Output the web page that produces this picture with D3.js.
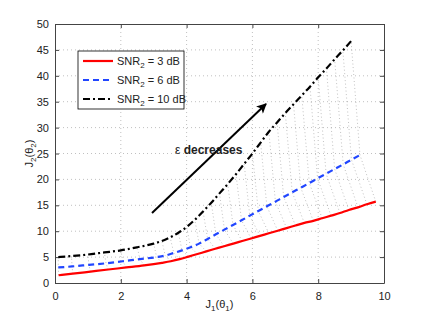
<!DOCTYPE html>
<meta charset="utf-8">
<html>
<head>
    <script src="https://d3js.org/d3.v7.min.js"></script>
    <style>
        body { margin: 0; background: #fff; }
        text { font-family: "Liberation Sans", Arial, sans-serif; fill: #222; }
    </style>
</head>
<body>
<div class="chart"></div>
<script>
// data (same parameter index across the three curves)
var blackX = [0.1, 0.5, 1.0, 1.5, 2.0, 2.5, 3.0, 3.25, 3.5, 3.75, 4.0, 4.25, 4.5, 4.75, 5.0, 5.25, 5.5, 5.75, 6.0, 6.25, 6.5, 6.75, 7.0, 7.25, 7.5, 7.75, 8.0, 8.25, 8.5, 8.75, 9.0];
var blackY = [5.0, 5.2, 5.5, 5.9, 6.3, 6.9, 7.6, 8.1, 8.8, 9.7, 10.8, 12.2, 13.8, 15.5, 17.3, 19.1, 21.0, 23.0, 25.0, 27.1, 29.2, 31.0, 32.8, 34.5, 36.2, 37.9, 39.7, 41.4, 43.2, 44.9, 46.7];
var blueX = [0.1, 0.52, 1.03, 1.55, 2.06, 2.58, 3.09, 3.35, 3.61, 3.86, 4.12, 4.38, 4.64, 4.89, 5.15, 5.41, 5.67, 5.92, 6.18, 6.44, 6.7, 6.95, 7.21, 7.47, 7.73, 7.98, 8.24, 8.5, 8.76, 9.01, 9.27];
var blueY = [3.0, 3.2, 3.5, 3.8, 4.2, 4.6, 5.0, 5.3, 5.8, 6.3, 6.9, 7.6, 8.5, 9.4, 10.3, 11.2, 12.1, 13.0, 13.9, 14.8, 15.7, 16.6, 17.5, 18.4, 19.3, 20.2, 21.1, 22.0, 22.9, 23.8, 24.7];
var redX = [0.11, 0.54, 1.08, 1.62, 2.17, 2.71, 3.25, 3.52, 3.79, 4.06, 4.33, 4.6, 4.87, 5.14, 5.42, 5.69, 5.96, 6.23, 6.5, 6.77, 7.04, 7.31, 7.58, 7.85, 8.12, 8.39, 8.66, 8.93, 9.21, 9.48, 9.75];
var redY = [1.5, 1.8, 2.2, 2.6, 3.0, 3.4, 3.9, 4.2, 4.6, 5.1, 5.6, 6.1, 6.6, 7.1, 7.6, 8.1, 8.6, 9.1, 9.6, 10.1, 10.6, 11.1, 11.6, 12.0, 12.5, 13.0, 13.5, 14.1, 14.6, 15.2, 15.7];
var xTicks = [0, 2, 4, 6, 8, 10];
var yTicks = [0, 5, 10, 15, 20, 25, 30, 35, 40, 45, 50];
var snrLabels = ["3", "6", "10"];

var W = 424, H = 319;
var margin = {top: 24, right: 40, bottom: 36, left: 55};
var width = W - margin.left - margin.right,
    height = H - margin.top - margin.bottom;

var svg = d3.select(".chart").append("svg")
    .attr("width", W)
    .attr("height", H);

var defs = svg.append("defs");
defs.append("marker")
    .attr("id", "head")
    .attr("viewBox", "0 0 10 10")
    .attr("refX", 9).attr("refY", 5)
    .attr("markerWidth", 6).attr("markerHeight", 5)
    .attr("markerUnits", "strokeWidth")
    .attr("orient", "auto")
    .append("path")
    .attr("d", "M0,0 L10,5 L0,10 L2.5,5 Z")
    .style("fill", "#000");

var g = svg.append("g")
    .attr("transform", "translate(" + margin.left + "," + margin.top + ")");

var x = d3.scaleLinear().domain([0, 10]).range([0, width]);
var y = d3.scaleLinear().domain([0, 50]).range([height, 0]);

// grid
g.selectAll(".vgrid").data(xTicks.slice(1, -1)).enter()
    .append("line")
    .attr("x1", function(d){ return x(d); }).attr("x2", function(d){ return x(d); })
    .attr("y1", 0).attr("y2", height)
    .style("stroke", "#b0b0b0").style("stroke-width", 0.8).style("stroke-dasharray", "1,3");
g.selectAll(".hgrid").data(yTicks.slice(1, -1)).enter()
    .append("line")
    .attr("x1", 0).attr("x2", width)
    .attr("y1", function(d){ return y(d); }).attr("y2", function(d){ return y(d); })
    .style("stroke", "#b0b0b0").style("stroke-width", 0.8).style("stroke-dasharray", "1,3");

// axes (ticks inside, mirrored)
g.append("g").attr("transform", "translate(0," + height + ")")
    .call(d3.axisBottom(x).tickValues(xTicks).tickSizeInner(-4).tickSizeOuter(0).tickPadding(9));
g.append("g")
    .call(d3.axisLeft(y).tickValues(yTicks).tickSizeInner(-4).tickSizeOuter(0).tickPadding(6));
g.append("g").call(d3.axisTop(x).tickValues(xTicks).tickSizeInner(-4).tickSizeOuter(0).tickFormat(""));
g.append("g").attr("transform", "translate(" + width + ",0)")
    .call(d3.axisRight(y).tickValues(yTicks).tickSizeInner(-4).tickSizeOuter(0).tickFormat(""));
g.selectAll(".domain, .tick line").style("stroke", "#444");
g.selectAll(".tick text").style("font-size", "11px").style("fill", "#222")
    .style("font-family", "Liberation Sans, Arial, sans-serif");

// connectors between points with the same epsilon
var conn = d3.line().x(function(d){ return x(d[0]); }).y(function(d){ return y(d[1]); });
g.selectAll(".conn").data(blackX).enter()
    .append("path")
    .attr("d", function(d, i){
        return conn([[redX[i], redY[i]], [blueX[i], blueY[i]], [blackX[i], blackY[i]]]);
    })
    .style("fill", "none").style("stroke", "#999").style("stroke-width", 0.6)
    .style("stroke-dasharray", "1,2.5");

// curves
var line = d3.line()
    .x(function(d){ return x(d[0]); })
    .y(function(d){ return y(d[1]); })
    .curve(d3.curveMonotoneX);
var series = [
    {xs: redX, ys: redY, color: "#ff0000", dash: null},
    {xs: blueX, ys: blueY, color: "#2146ff", dash: "6,4"},
    {xs: blackX, ys: blackY, color: "#000000", dash: "7,3,2,3"}
];
series.forEach(function(s){
    g.append("path")
        .attr("d", line(s.xs.map(function(v, i){ return [v, s.ys[i]]; })))
        .style("fill", "none")
        .style("stroke", s.color)
        .style("stroke-width", 2.2)
        .style("stroke-dasharray", s.dash);
});

// axis labels
var xl = svg.append("text")
    .attr("x", margin.left + width / 2).attr("y", 308)
    .style("text-anchor", "middle").style("font-size", "11px");
xl.append("tspan").text("J");
xl.append("tspan").attr("dy", 3).style("font-size", "8px").text("1");
xl.append("tspan").attr("dy", -3).text("(θ");
xl.append("tspan").attr("dy", 3).style("font-size", "8px").text("1");
xl.append("tspan").attr("dy", -3).text(")");

var yl = svg.append("text")
    .attr("transform", "translate(33," + (margin.top + height / 2) + ") rotate(-90)")
    .style("text-anchor", "middle").style("font-size", "11px");
yl.append("tspan").text("J");
yl.append("tspan").attr("dy", 3).style("font-size", "8px").text("2");
yl.append("tspan").attr("dy", -3).text("(θ");
yl.append("tspan").attr("dy", 3).style("font-size", "8px").text("2");
yl.append("tspan").attr("dy", -3).text(")");

// legend
var legend = svg.append("g").attr("transform", "translate(78,51)");
legend.append("rect")
    .attr("width", 106).attr("height", 58)
    .style("fill", "#fff").style("stroke", "#000").style("stroke-width", 0.8);
series.forEach(function(s, i){
    var ly = 10 + i * 19;
    legend.append("line")
        .attr("x1", 5).attr("x2", 35).attr("y1", ly).attr("y2", ly)
        .style("stroke", s.color).style("stroke-width", 2.2)
        .style("stroke-dasharray", s.dash);
    var t = legend.append("text").attr("x", 39).attr("y", ly + 4).style("font-size", "11px");
    t.append("tspan").text("SNR");
    t.append("tspan").attr("dy", 3).style("font-size", "8px").text("2");
    t.append("tspan").attr("dy", -3).text(" = " + snrLabels[i] + " dB");
});

// annotation arrow
svg.append("line")
    .attr("x1", 152).attr("y1", 213).attr("x2", 266).attr("y2", 104)
    .style("stroke", "#000").style("stroke-width", 2)
    .attr("marker-end", "url(#head)");
var ann = svg.append("text").attr("x", 175).attr("y", 154).style("font-size", "12px");
ann.append("tspan").text("ε ");
ann.append("tspan").style("font-weight", "bold").text("decreases");
</script>
</body>
</html>
